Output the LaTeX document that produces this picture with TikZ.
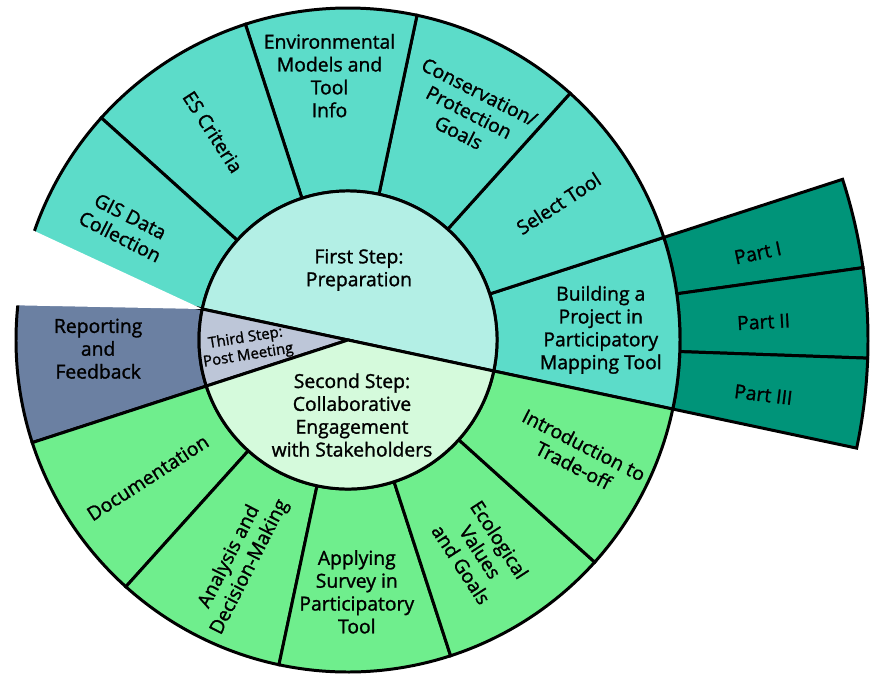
\documentclass[tikz,border=0pt]{standalone}
\usepackage{fontspec}
\setmainfont{Open Sans}[FakeBold=1.3]

\definecolor{prepinner}{HTML}{B3EFE5}
\definecolor{prepouter}{HTML}{5CDCC9}
\definecolor{partfill}{HTML}{009479}
\definecolor{collabinner}{HTML}{D5FADC}
\definecolor{collabouter}{HTML}{6FEE8D}
\definecolor{postinner}{HTML}{BDC6D8}
\definecolor{postouter}{HTML}{6B80A2}

% ring piece: colour, start angle, end angle, inner radius, outer radius
\newcommand{\ringseg}[5]{\filldraw[seg, fill=#1] (#2:#4) arc[start angle=#2, end angle=#3, radius=#4]
  -- (#3:#5) arc[start angle=#3, end angle=#2, radius=#5] -- cycle;}
% pie piece from the centre: colour, start angle, end angle, radius
\newcommand{\pieseg}[4]{\filldraw[seg, fill=#1] (0,0) -- (#2:#4) arc[start angle=#2, end angle=#3, radius=#4] -- cycle;}

\begin{document}
\begin{tikzpicture}[x=0.02cm, y=0.02cm,
  seg/.style={draw=black, line width=1.7pt},
  lbl/.style={align=center, inner sep=0pt, font=\fontsize{11}{13}\selectfont},
  small/.style={align=center, inner sep=0pt, font=\fontsize{8.5}{10}\selectfont}]
  \useasboundingbox (-348,-334) rectangle (527,340);

  % outermost ring: parts of the project
  \ringseg{partfill}{8}{18}{332}{520}
  \ringseg{partfill}{-2}{8}{332}{520}
  \ringseg{partfill}{-12}{-2}{332}{520}

  % middle ring
  \ringseg{prepouter}{-12}{18}{149}{332}
  \ringseg{prepouter}{18}{48}{149}{332}
  \ringseg{prepouter}{48}{78}{149}{332}
  \ringseg{prepouter}{78}{108}{149}{332}
  \ringseg{prepouter}{108}{138}{149}{332}
  \ringseg{prepouter}{138}{168}{149}{332}
  \ringseg{postouter}{168}{198}{149}{332}
  \ringseg{collabouter}{198}{228}{149}{332}
  \ringseg{collabouter}{228}{258}{149}{332}
  \ringseg{collabouter}{258}{288}{149}{332}
  \ringseg{collabouter}{288}{318}{149}{332}
  \ringseg{collabouter}{318}{348}{149}{332}

  % gap between the first and third step
  \fill[white] (168:149) -- (-348,125) -- (-348,35) -- cycle;

  % centre: the three steps
  \pieseg{prepinner}{-12}{168}{149}
  \pieseg{postinner}{168}{198}{149}
  \pieseg{collabinner}{198}{348}{149}

  \node[lbl] (prep) at (11,70) {First Step:\\Preparation};
  \node[lbl] (collab) at (4,-75) {Second Step:\\Collaborative\\Engagement\\with Stakeholders};
  \node[small, rotate=9] (post) at (-101,-7) {Third Step:\\Post Meeting};

  \node[lbl, rotate=-27] (gis) at (153:250) {GIS Data\\Collection};
  \node[lbl, rotate=-57] (es) at (123:248) {ES Criteria};
  \node[lbl] (envmodels) at (94:265) {Environmental\\Models and\\Tool\\Info};
  \node[lbl, rotate=-27] (goals) at (62:258) {Conservation/\\Protection\\Goals};
  \node[lbl, rotate=33] (seltool) at (33:251) {Select Tool};
  \node[lbl] (building) at (2.3:253) {Building a\\Project in\\Participatory\\Mapping Tool};

  \node[lbl, rotate=12] (part1) at (12:419) {Part I};
  \node[lbl, rotate=3] (part2) at (2.5:416) {Part II};
  \node[lbl, rotate=-7] (part3) at (-7.5:419) {Part III};

  \node[lbl, rotate=-27] (tradeoff) at (-26.5:258) {Introduction to\\Trade-off};
  \node[lbl, rotate=-57] (ecovalues) at (-58:250) {Ecological\\Values\\and Goals};
  \node[lbl] (survey) at (-88:252) {Applying\\Survey in\\Participatory\\Tool};
  \node[lbl, rotate=63] (analysis) at (244:247) {Analysis and\\Decision-Making};
  \node[lbl, rotate=33] (docu) at (214.5:243) {Documentation};
  \node[lbl] (report) at (182:250) {Reporting\\and\\Feedback};
\end{tikzpicture}
\end{document}
